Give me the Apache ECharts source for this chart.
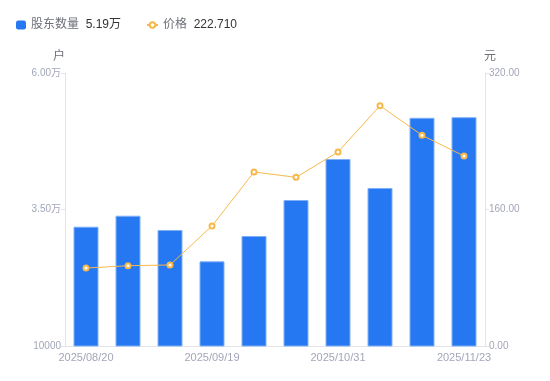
<!DOCTYPE html>
<html><head><meta charset="utf-8">
<script src="https://cdn.jsdelivr.net/npm/echarts@6/dist/echarts.min.js"></script>
<style>html,body{margin:0;padding:0;background:#fff}#c{width:550px;height:381px}</style>
</head><body><div id="c"></div>
<script>
var categories = ['2025/08/20','2025/08/31','2025/09/10','2025/09/19','2025/09/30','2025/10/20','2025/10/31','2025/11/10','2025/11/20','2025/11/23'];
var holders = [31850, 33860, 31250, 25510, 30150, 36740, 44250, 38940, 51800, 51900];
var prices = [91.4, 94.1, 95.0, 140.7, 204.0, 197.7, 227.4, 281.7, 247.0, 222.71];
var leftTicks = {min: 10000, max: 60000, interval: 25000};
var rightTicks = {min: 0, max: 320, interval: 160};

var chart = echarts.init(document.getElementById('c'), null, {renderer: 'canvas'});
var labelColor = '#a3a6b8';
var lineColor = '#e4e4e8';
var ff = '"Liberation Sans", "Noto Sans CJK SC", sans-serif';
function legendFmt(n) {
  if (n === '股东数量') return '{n|' + n + '}  {v|' + (holders[holders.length-1]/10000).toFixed(2) + '万}';
  return '{n|' + n + '}  {v|' + prices[prices.length-1].toFixed(3) + '}';
}
var legendText = {fontFamily: ff, rich: {n: {color: '#6e7079', fontSize: 12, fontFamily: ff}, v: {color: '#333', fontSize: 12, fontFamily: ff}}};
chart.setOption({
  animation: false,
  textStyle: {fontFamily: ff},
  legend: [{
    left: 11, top: 14, itemWidth: 10, itemHeight: 9,
    data: [{name: '股东数量', icon: 'roundRect', itemStyle: {borderWidth: 0}}],
    formatter: legendFmt, textStyle: legendText
  }, {
    left: 141, top: 14, itemWidth: 11, itemHeight: 7,
    data: [{name: '价格'}],
    formatter: legendFmt, textStyle: legendText
  }],
  grid: {left: 65, right: 65, top: 73, bottom: 35},
  xAxis: {
    type: 'category', data: categories,
    axisLine: {lineStyle: {color: lineColor}},
    axisTick: {show: false},
    axisLabel: {color: labelColor, fontSize: 11, interval: 2, margin: 6, fontFamily: ff}
  },
  yAxis: [{
    type: 'value', name: '户', min: leftTicks.min, max: leftTicks.max, interval: leftTicks.interval,
    nameTextStyle: {color: '#6e7079', fontSize: 12, padding: [0, 12, 0, 0]}, nameGap: 10,
    axisLine: {show: true, lineStyle: {color: lineColor}},
    axisTick: {show: true, length: 4, lineStyle: {color: lineColor}},
    splitLine: {show: false},
    axisLabel: {color: labelColor, fontSize: 10, margin: 4, fontFamily: ff, formatter: function (v) {
      return v === 10000 ? '10000' : (v/10000).toFixed(2) + '万';
    }}
  }, {
    type: 'value', name: '元', min: rightTicks.min, max: rightTicks.max, interval: rightTicks.interval,
    nameTextStyle: {color: '#6e7079', fontSize: 12, padding: [0, 0, 0, 10]}, nameGap: 10,
    axisLine: {show: true, lineStyle: {color: lineColor}},
    axisTick: {show: true, length: 4, lineStyle: {color: lineColor}},
    splitLine: {show: false},
    axisLabel: {color: labelColor, fontSize: 10, margin: 4, fontFamily: ff, formatter: function (v) { return v.toFixed(2); }}
  }],
  series: [{
    name: '股东数量', type: 'bar', data: holders, barWidth: 25, yAxisIndex: 0,
    itemStyle: {color: '#2677f2', borderColor: '#80b1f7', borderWidth: 1}
  }, {
    name: '价格', type: 'line', data: prices, yAxisIndex: 1,
    symbol: 'emptyCircle', symbolSize: 5,
    lineStyle: {color: '#f7b84b', width: 1},
    itemStyle: {color: '#f7b84b', borderWidth: 2}
  }]
});
</script></body></html>
